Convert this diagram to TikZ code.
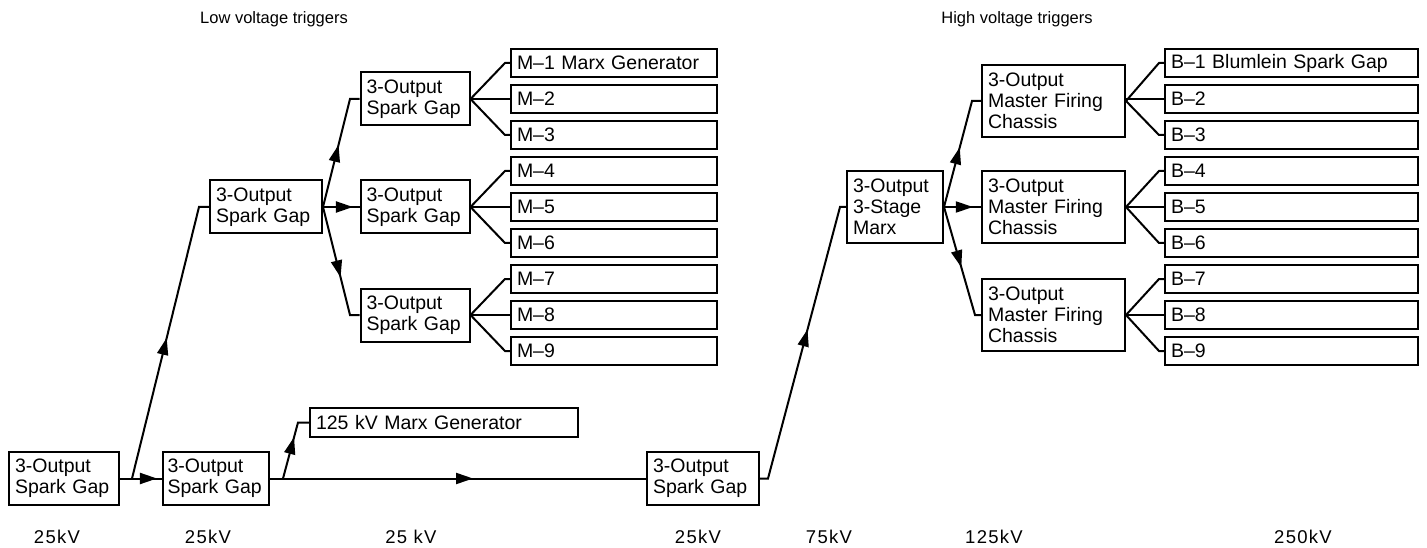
\documentclass[tikz,border=0pt]{standalone}
\usepackage{fontspec}
\setmainfont{Liberation Sans}
\newfontfamily\kvfont[LetterSpace=7]{Liberation Sans}
\usetikzlibrary{arrows.meta,decorations.markings}
\begin{document}
\begin{tikzpicture}[x=1pt,y=-1pt,
  every node/.style={font=\fontsize{19.5}{21}\selectfont},
  bx/.style={draw, line width=2pt, inner xsep=6pt, inner ysep=0pt, align=left},
  sg/.style={bx, text width=98pt, minimum height=53pt},
  mf/.style={bx, text width=131pt, minimum height=72pt},
  mo/.style={bx, text width=194pt, minimum height=28pt},
  bo/.style={bx, text width=241pt, minimum height=28pt},
  ttl/.style={font=\fontsize{16.5}{18}\selectfont},
  kv/.style={font=\kvfont\fontsize{18.5}{20}\selectfont},
  ln/.style={line width=2pt},
  arr/.style={postaction={decorate}, decoration={markings, mark=at position #1 with {\arrow{Triangle[length=17pt,width=11pt]}}}}
]
\useasboundingbox (0,0) rectangle (1427,548);

% titles
\node[ttl] (t1) at (274,19) {Low voltage triggers};
\node[ttl] (t2) at (1017,19) {High voltage triggers};

% low voltage section
\node[sg] (A) at (64,478.5) {3-Output\\Spark Gap};
\node[sg, inner xsep=4.5pt, text width=97pt] (B) at (216,478.5) {3-Output\\Spark Gap};
\node[sg, text width=100pt] (C) at (266,207) {3-Output\\Spark Gap};
\node[sg, text width=97pt] (D1) at (415,99) {3-Output\\Spark Gap};
\node[sg, text width=97pt] (D2) at (415,207) {3-Output\\Spark Gap};
\node[sg, text width=97pt] (D3) at (415,315) {3-Output\\Spark Gap};
\node[mo] (M1) at (614,63) {M–1 Marx Generator};
\foreach \i in {2,...,9}{
  \node[mo] (M\i) at (614,{63+36*(\i-1)}) {M–\i};
}
\node[bx, text width=256pt, minimum height=29pt] (E) at (444,422.5) {125 kV Marx Generator};
\node[sg, text width=100pt] (F) at (703,478.5) {3-Output\\Spark Gap};

% high voltage section
\node[bx, text width=84pt, minimum height=72pt] (G) at (895,207) {3-Output\\3-Stage\\Marx};
\node[mf] (H1) at (1053.5,101) {3-Output\\Master Firing\\Chassis};
\node[mf] (H2) at (1053.5,207) {3-Output\\Master Firing\\Chassis};
\node[mf] (H3) at (1053.5,315) {3-Output\\Master Firing\\Chassis};
\node[bo] (Q1) at (1291.5,63) {B–1 Blumlein Spark Gap};
\foreach \i in {2,...,9}{
  \node[bo] (Q\i) at (1291.5,{63+36*(\i-1)}) {B–\i};
}

% fans
\foreach \d/\a/\b/\c in {D1/M1/M2/M3, D2/M4/M5/M6, D3/M7/M8/M9, H1/Q1/Q2/Q3, H2/Q4/Q5/Q6, H3/Q7/Q8/Q9}{
  \draw[ln] (\d.east) -- ([xshift=-5pt]\a.west) -- (\a.west);
  \draw[ln] (\d.east) -- (\b.west -| \d.east) -- (\b.west);
  \draw[ln] (\d.east) -- ([xshift=-5pt]\c.west) -- (\c.west);
}

% connectors
\coordinate (a1) at (132,478.5);
\coordinate (c0) at (199,207);
\draw[ln,arr=0.88] (A.east) -- (B.west);
\draw[ln,arr=0.5] (a1) -- (c0) -- (C.west);

\coordinate (d1) at (350,99);
\coordinate (d3) at (350,315);
\draw[ln,arr=0.53] (C.east) -- (d1) -- (D1.west);
\draw[ln,arr=0.82] (C.east) -- (D2.west);
\draw[ln,arr=0.6] (C.east) -- (d3) -- (D3.west);

\coordinate (b1) at (283,478.5);
\coordinate (e0) at (298,422.5);
\draw[ln,arr=0.62] (b1) -- (e0) -- (E.west);
\draw[ln,arr=0.54] (B.east) -- (F.west);

\coordinate (f1) at (768,478.5);
\coordinate (g0) at (840,207);
\draw[ln,arr=0.55] (F.east) -- (f1) -- (g0) -- (G.west);

\coordinate (h1) at (972,101);
\coordinate (h3) at (975,315);
\draw[ln,arr=0.52] (G.east) -- (h1) -- (H1.west);
\draw[ln,arr=0.78] (G.east) -- (H2.west);
\draw[ln,arr=0.53] (G.east) -- (h3) -- (H3.west);

% voltage labels
\node[kv] (v1) at (57,537) {25kV};
\node[kv] (v2) at (208,537) {25kV};
\node[kv] (v3) at (411,537) {25 kV};
\node[kv] (v4) at (698,537) {25kV};
\node[kv] (v5) at (829,537) {75kV};
\node[kv] (v6) at (994,537) {125kV};
\node[kv] (v7) at (1303,537) {250kV};
\end{tikzpicture}
\end{document}
